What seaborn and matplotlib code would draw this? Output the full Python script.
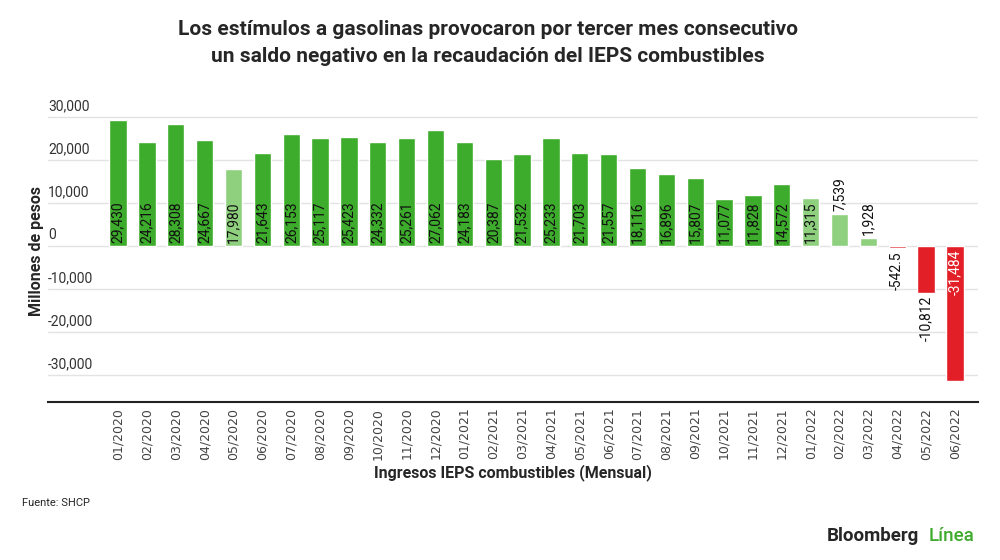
import matplotlib.pyplot as plt
import seaborn as sns
import pandas as pd

# Ingresos mensuales IEPS combustibles (millones de pesos)
months = ['01/2020', '02/2020', '03/2020', '04/2020', '05/2020', '06/2020',
          '07/2020', '08/2020', '09/2020', '10/2020', '11/2020', '12/2020',
          '01/2021', '02/2021', '03/2021', '04/2021', '05/2021', '06/2021',
          '07/2021', '08/2021', '09/2021', '10/2021', '11/2021', '12/2021',
          '01/2022', '02/2022', '03/2022', '04/2022', '05/2022', '06/2022']
values = [29430, 24216, 28308, 24667, 17980, 21643,
          26153, 25117, 25423, 24332, 25261, 27062,
          24183, 20387, 21532, 25233, 21703, 21557,
          18116, 16896, 15807, 11077, 11828, 14572,
          11315, 7539, 1928, -542.5, -10812, -31484]
labels = ['29,430', '24,216', '28,308', '24,667', '17,980', '21,643',
          '26,153', '25,117', '25,423', '24,332', '25,261', '27,062',
          '24,183', '20,387', '21,532', '25,233', '21,703', '21,557',
          '18,116', '16,896', '15,807', '11,077', '11,828', '14,572',
          '11,315', '7,539', '1,928', '-542.5', '-10,812', '-31,484']
light_months = ['05/2020', '01/2022', '02/2022', '03/2022']
y_ticks = [30000, 20000, 10000, 0, -10000, -20000, -30000]
y_tick_labels = ['30,000', '20,000', '10,000', '0', '-10,000', '-20,000', '-30,000']

GREEN = '#3dab2b'
LIGHT = '#8fd07f'
RED = '#e21f26'

df = pd.DataFrame({'mes': months, 'valor': values, 'etiqueta': labels})
df['color'] = [RED if v < 0 else (LIGHT if m in light_months else GREEN)
               for m, v in zip(months, values)]

sns.set_style('white')
plt.rcParams['font.family'] = ['Roboto', 'DejaVu Sans']

fig = plt.figure(figsize=(10, 5.6), dpi=100)
ax = fig.add_axes([0.048, 0.282, 0.93, 0.539])

sns.barplot(data=df, x='mes', y='valor', hue='mes', palette=dict(zip(df['mes'], df['color'])),
            legend=False, width=0.6, saturation=1, ax=ax)

ax.set_ylim(-36280, 33950)
ax.set_xlim(-2.43, 29.8)

# lineas de cuadricula con etiquetas encima, alineadas a la izquierda
for t, lab in zip(y_ticks, y_tick_labels):
    ax.axhline(t, color='#e3e3e3', lw=1, zorder=0)
    ax.text(0.0, t + 900, lab, transform=ax.get_yaxis_transform(),
            ha='left', va='bottom', fontsize=10, color='#333333')
ax.set_yticks([])
ax.set_ylabel('Millones de pesos', fontsize=11.5, fontweight='bold', labelpad=3)

for s in ['top', 'right', 'left']:
    ax.spines[s].set_visible(False)
ax.spines['bottom'].set_color('#222222')
ax.spines['bottom'].set_linewidth(1.5)

ax.set_xticks(range(len(months)))
ax.set_xticklabels(months, rotation=90, fontsize=9, color='#444444', family='DejaVu Sans')
ax.tick_params(axis='x', length=0, pad=4)
ax.set_xlabel('Ingresos IEPS combustibles (Mensual)', fontsize=11.5, fontweight='bold', labelpad=3)

# etiquetas de valor
for i, (v, lab, c) in enumerate(zip(values, labels, df['color'])):
    if v >= 9000:
        ax.text(i, 700, lab, rotation=90, ha='center', va='bottom', fontsize=10, color='#111111')
    elif v > 0:
        ax.text(i, v + 700, lab, rotation=90, ha='center', va='bottom', fontsize=10, color='#111111')
    elif v > -20000:
        ax.text(i, v - 800, lab, rotation=90, ha='center', va='top', fontsize=10, color='#111111')
    else:
        ax.text(i, -800, lab, rotation=90, ha='center', va='top', fontsize=10, color='white')

fig.text(0.488, 0.965, 'Los estímulos a gasolinas provocaron por tercer mes consecutivo\n'
         'un saldo negativo en la recaudación del IEPS combustibles',
         ha='center', va='top', fontsize=15, fontweight='bold', linespacing=1.55)
fig.text(0.022, 0.102, 'Fuente: SHCP', fontsize=8, ha='left', va='center')
fig.text(0.827, 0.042, 'Bloomberg', fontsize=13.5, fontweight='bold', ha='left', va='center')
fig.text(0.929, 0.042, 'Línea', fontsize=13.5, fontweight='medium', color='#3dab2b',
         ha='left', va='center')

fig.savefig('out.png', dpi=100)
